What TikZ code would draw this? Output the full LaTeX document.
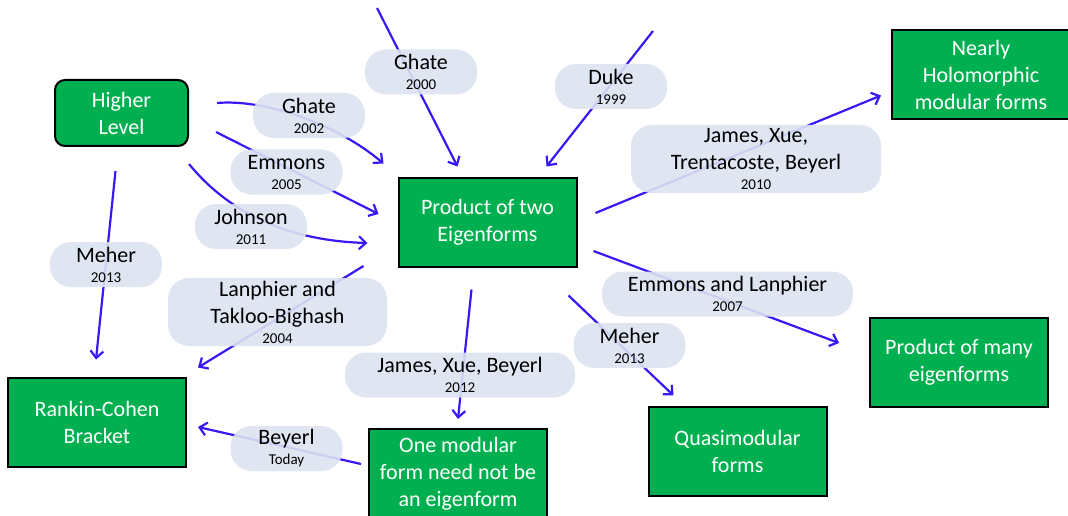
\documentclass[tikz,border=0pt]{standalone}
\usepackage{fontspec}
\setmainfont{Carlito}
\usepackage{xcolor}
\definecolor{boxGreen}{RGB}{0,176,80}
\definecolor{pillBlue}{RGB}{219,227,241}
\definecolor{linkBlue}{RGB}{55,25,245}
\usetikzlibrary{arrows.meta,calc,backgrounds}
\tikzset{
  result/.style={rectangle, draw=black, line width=2pt, fill=boxGreen, text=white,
                 minimum width=178pt, minimum height=89pt, inner sep=2pt,
                 align=center, font=\fontsize{22}{27}\selectfont},
  pill/.style={rectangle, rounded corners=21pt, fill=pillBlue, fill opacity=0.9,
               text opacity=1, minimum width=112pt, minimum height=45pt, inner sep=2pt,
               align=center, font=\fontsize{22}{27}\selectfont},
  link/.style={-{Straight Barb[length=7pt,width=13pt]}, line width=2.2pt, linkBlue},
}
\newcommand{\yr}[1]{\\[-7pt]{\fontsize{15}{17}\selectfont #1}}

\begin{document}
\begin{tikzpicture}[x=1pt, y=-1pt]
  \useasboundingbox (0,0) rectangle (1068,516);

  \node[result, rounded corners=10pt, minimum width=133pt, minimum height=66pt] (hl) at (121.5,113) {Higher\\Level};
  \node[result] (prod) at (487.5,222) {Product of two\\Eigenforms};
  \node[result] (nhol) at (981,74.5) {Nearly\\Holomorphic\\modular forms};
  \node[result] (rcb) at (97,422) {Rankin-Cohen\\Bracket};
  \node[result, minimum height=90pt] (onemf) at (458,474) {One modular\\form need not be\\an eigenform};
  \node[result] (quasi) at (737.5,451) {Quasimodular\\forms};
  \node[result] (many) at (959,362) {Product of many\\eigenforms};

  \node[pill] (ghateA) at (421,72) {Ghate\yr{2000}};
  \node[pill] (duke) at (611,86.5) {Duke\yr{1999}};
  \node[pill] (ghateB) at (309,115.5) {Ghate\yr{2002}};
  \node[pill] (emmons) at (286.5,172) {Emmons\yr{2005}};
  \node[pill] (johnson) at (251,226.5) {Johnson\yr{2011}};
  \node[pill] (meherL) at (106,264.5) {Meher\yr{2013}};
  \node[pill, minimum width=219pt, minimum height=68pt] (lantak) at (277.5,312) {Lanphier and\\Takloo-Bighash\yr{2004}};
  \node[pill] (beyerl) at (286.5,448.5) {Beyerl\yr{Today}};
  \node[pill, minimum width=230pt] (jxb) at (460,375) {James, Xue, Beyerl\yr{2012}};
  \node[pill] (meherR) at (629.5,345.5) {Meher\yr{2013}};
  \node[pill, minimum width=251pt] (emlan) at (727.5,294) {Emmons and Lanphier\yr{2007}};
  \node[pill, minimum width=250pt, minimum height=68pt] (jxtb) at (756,159) {James, Xue,\\Trentacoste, Beyerl\yr{2010}};

  \coordinate (topA) at (377,8);
  \coordinate (topB) at (653,31);

  \begin{scope}[on background layer]
    \draw[link] (topA) -- ($(prod.north)+(-30,-10)$);
    \draw[link] (topB) -- ($(prod.north)+(59,-10)$);
    \draw[link] ($(hl.east)+(28,-10)$) .. controls +(45,-4) and +(-50,-42) .. ($(prod.north west)+(-14,-13)$);
    \draw[link] ($(hl.east)+(27,19)$) -- ($(prod.west)+(-19,-8)$);
    \draw[link] ($(hl.south east)+(0,17)$) .. controls +(45,55) and +(-70,-2) .. ($(prod.west)+(-30,21)$);
    \draw[link] ($(prod.west)+(-34,44)$) -- ($(rcb.north east)+(11,-9)$);
    \draw[link] ($(hl.south)+(-6,24)$) -- ($(rcb.north)+(-1,-17)$);
    \draw[link] ($(onemf.west)+(-7,-10)$) -- ($(rcb.east)+(11,5)$);
    \draw[link] ($(prod.south)+(-16,22)$) -- ($(onemf.north)+(0,-9)$);
    \draw[link] ($(prod.south east)+(-9,28)$) -- ($(quasi.north west)+(26,-10)$);
    \draw[link] ($(prod.east)+(16,29)$) -- ($(many.west)+(-30,-19)$);
    \draw[link] ($(prod.east)+(18,-9)$) -- ($(nhol.west)+(-10,21)$);
  \end{scope}
\end{tikzpicture}
\end{document}
